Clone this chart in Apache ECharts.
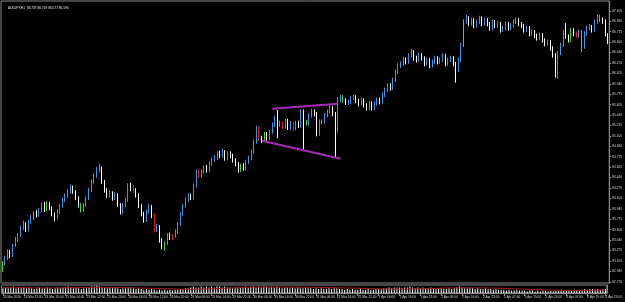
<!DOCTYPE html>
<html><head><meta charset="utf-8">
<script src="https://cdn.jsdelivr.net/npm/echarts@6/dist/echarts.min.js"></script>
<style>html,body{margin:0;padding:0;background:#000}#c{width:625px;height:302px}</style>
</head><body><div id="c"></div>
<script>
const titleText = 'AUDJPY,H1  86.737 86.749 86.577 86.596';
const opens = [82.96,83.07,83.15,83.25,83.19,83.35,83.44,83.51,83.63,83.68,83.60,83.73,83.79,83.86,83.83,83.92,
83.99,83.92,84.02,83.95,83.86,83.79,83.89,83.99,84.08,84.15,84.21,84.27,84.21,84.11,84.00,83.92,
83.99,84.11,84.24,84.37,84.47,84.56,84.58,84.37,84.24,84.15,84.19,84.11,84.16,84.00,83.89,83.99,
84.08,84.31,84.26,84.23,84.16,83.99,83.86,83.76,83.89,83.97,83.83,83.60,83.65,83.44,83.33,83.39,
83.51,83.47,83.51,83.57,83.70,83.86,83.99,84.08,84.15,84.11,84.31,84.53,84.47,84.53,84.59,84.56,
84.66,84.72,84.75,84.82,84.79,84.85,84.75,84.82,84.79,84.72,84.66,84.56,84.63,84.59,84.69,84.75,
84.85,85.01,85.23,85.07,85.04,85.14,85.07,85.17,85.28,85.36,85.28,85.31,85.25,85.35,85.23,85.30,
85.23,85.31,85.27,85.49,85.33,85.30,85.43,85.49,85.46,85.14,85.33,85.33,85.43,85.49,85.55,85.46,
85.20,85.68,85.73,85.68,85.63,85.65,85.71,85.73,85.67,85.62,85.68,85.60,85.55,85.63,85.55,85.62,
85.68,85.65,85.76,85.84,85.91,85.87,86.00,86.13,86.23,86.26,86.32,86.29,86.39,86.45,86.35,86.32,
86.40,86.35,86.26,86.32,86.23,86.29,86.35,86.29,86.32,86.39,86.26,86.32,86.35,86.26,86.16,86.32,
86.56,86.93,86.99,86.90,86.96,86.87,86.93,86.99,86.90,86.96,86.90,86.83,86.93,86.87,86.90,86.80,
86.83,86.90,86.83,86.87,86.93,86.96,86.90,86.87,86.80,86.83,86.74,86.77,86.71,86.67,86.72,86.64,
86.58,86.61,86.51,86.40,86.10,86.43,86.56,86.75,86.69,86.64,86.80,86.74,86.71,86.77,86.53,86.74,
86.83,86.85,86.80,86.93,87.01,86.96,86.93,86.737];
const closes = [83.07,83.15,83.25,83.19,83.35,83.44,83.51,83.63,83.68,83.60,83.73,83.79,83.86,83.83,83.92,83.99,
83.92,84.02,83.95,83.86,83.79,83.89,83.99,84.08,84.15,84.21,84.27,84.21,84.11,84.00,83.92,83.99,
84.11,84.24,84.37,84.47,84.56,84.58,84.37,84.24,84.15,84.19,84.11,84.16,84.00,83.89,83.99,84.08,
84.31,84.26,84.23,84.16,83.99,83.86,83.76,83.89,83.97,83.83,83.60,83.65,83.44,83.35,83.39,83.51,
83.47,83.51,83.57,83.70,83.86,83.99,84.08,84.15,84.11,84.31,84.53,84.47,84.53,84.59,84.56,84.66,
84.72,84.75,84.82,84.79,84.85,84.75,84.82,84.79,84.72,84.66,84.56,84.63,84.59,84.69,84.75,84.85,
85.01,85.23,85.07,85.04,85.14,85.07,85.17,85.28,85.36,85.28,85.31,85.25,85.35,85.23,85.30,85.23,
85.31,85.27,85.49,85.33,85.30,85.43,85.49,85.46,85.14,85.33,85.33,85.43,85.49,85.55,85.46,85.20,
85.68,85.73,85.68,85.63,85.65,85.71,85.73,85.67,85.62,85.68,85.60,85.55,85.63,85.55,85.62,85.68,
85.65,85.76,85.84,85.91,85.87,86.00,86.13,86.23,86.26,86.32,86.29,86.39,86.45,86.35,86.32,86.40,
86.35,86.26,86.32,86.23,86.29,86.35,86.29,86.32,86.39,86.26,86.32,86.35,86.26,86.16,86.32,86.56,
86.93,86.99,86.90,86.96,86.87,86.93,86.99,86.90,86.96,86.90,86.83,86.93,86.87,86.90,86.80,86.83,
86.90,86.83,86.87,86.93,86.96,86.90,86.87,86.80,86.83,86.74,86.77,86.71,86.67,86.72,86.64,86.58,
86.61,86.51,86.40,86.13,86.43,86.56,86.75,86.69,86.64,86.80,86.74,86.71,86.77,86.53,86.74,86.83,
86.85,86.80,86.93,87.01,86.96,86.93,86.74,86.596];
const highs = [83.10,83.19,83.29,83.28,83.38,83.49,83.55,83.67,83.75,83.72,83.76,83.84,83.90,83.92,83.95,84.04,
84.05,84.06,84.05,83.98,83.88,83.93,84.02,84.12,84.19,84.26,84.33,84.31,84.24,84.14,84.03,84.03,
84.14,84.28,84.41,84.51,84.61,84.66,84.62,84.40,84.27,84.24,84.22,84.21,84.19,84.03,84.03,84.12,
84.35,84.36,84.32,84.27,84.19,84.02,83.89,83.93,84.02,84.00,83.86,83.70,83.68,83.47,83.42,83.55,
83.56,83.54,83.61,83.73,83.89,84.02,84.12,84.19,84.18,84.34,84.57,84.57,84.57,84.63,84.64,84.70,
84.76,84.80,84.86,84.87,84.90,84.88,84.86,84.86,84.82,84.75,84.69,84.66,84.67,84.72,84.79,84.89,
85.05,85.27,85.26,85.11,85.17,85.17,85.20,85.32,85.43,85.52,85.35,85.34,85.38,85.38,85.34,85.33,
85.35,85.35,85.53,85.53,85.36,85.47,85.54,85.53,85.49,85.37,85.37,85.47,85.53,85.60,85.58,85.49,
85.73,85.76,85.76,85.71,85.69,85.75,85.77,85.76,85.70,85.72,85.71,85.63,85.67,85.66,85.66,85.72,
85.72,85.80,85.88,85.95,85.95,86.04,86.17,86.27,86.30,86.37,86.36,86.43,86.50,86.48,86.39,86.44,
86.43,86.38,86.36,86.35,86.33,86.39,86.38,86.36,86.43,86.42,86.36,86.39,86.38,86.29,86.36,86.60,
86.97,87.04,87.02,87.00,86.99,86.97,87.03,87.02,87.00,86.99,86.93,86.97,86.96,86.94,86.93,86.87,
86.94,86.93,86.91,86.97,87.00,86.99,86.93,86.90,86.87,86.86,86.81,86.80,86.74,86.76,86.75,86.67,
86.65,86.64,86.54,86.43,86.47,86.60,86.80,86.91,86.73,86.83,86.83,86.78,86.81,86.80,86.78,86.87,
86.90,86.88,86.97,87.05,87.04,87.00,86.97,86.749];
const lows = [82.93,83.04,83.12,83.15,83.17,83.33,83.41,83.49,83.60,83.57,83.58,83.70,83.76,83.80,83.81,83.89,
83.89,83.90,83.92,83.82,83.74,83.77,83.86,83.96,84.05,84.12,84.18,84.18,84.08,83.96,83.88,83.89,
83.97,84.08,84.21,84.34,84.44,84.52,84.34,84.20,84.11,84.12,84.07,84.08,83.97,83.85,83.86,83.96,
84.05,84.22,84.19,84.12,83.95,83.82,83.72,83.73,83.86,83.79,83.56,83.57,83.40,83.30,83.27,83.36,
83.44,83.44,83.48,83.54,83.67,83.83,83.96,84.05,84.08,84.09,84.28,84.43,84.44,84.50,84.52,84.53,
84.63,84.69,84.72,84.75,84.76,84.71,84.72,84.75,84.68,84.62,84.52,84.53,84.55,84.56,84.66,84.72,
84.82,84.98,85.03,84.99,85.01,85.03,85.04,85.14,85.25,85.07,85.25,85.21,85.22,85.20,85.20,85.19,
85.20,85.23,85.24,84.89,85.27,85.27,85.40,85.42,85.10,85.11,85.29,85.30,85.40,85.46,85.42,84.77,
85.16,85.65,85.64,85.60,85.60,85.62,85.68,85.63,85.58,85.59,85.56,85.51,85.52,85.51,85.52,85.59,
85.61,85.62,85.73,85.81,85.83,85.84,85.97,86.10,86.19,86.23,86.25,86.26,86.36,86.31,86.28,86.29,
86.31,86.22,86.23,86.19,86.20,86.26,86.25,86.26,86.29,86.22,86.23,86.29,86.22,85.96,86.13,86.29,
86.53,86.90,86.86,86.87,86.83,86.84,86.90,86.86,86.87,86.86,86.79,86.80,86.83,86.84,86.76,86.77,
86.80,86.79,86.80,86.84,86.90,86.86,86.83,86.76,86.77,86.70,86.71,86.67,86.63,86.64,86.60,86.54,
86.55,86.47,86.36,86.04,86.02,86.40,86.53,86.66,86.60,86.61,86.70,86.67,86.68,86.45,86.50,86.71,
86.80,86.76,86.77,86.90,86.93,86.90,86.70,86.577];
const greenBars = [0,12,17,30,62,91,100,116,122,130,176,196,217,221,228];
const redBars = [50,58,65,75,98,107,111,219];
const volumes = [6,7,6,7,8,6,7,6, 7,6,7,6,5,6,7,6, 6,7,6,5,6,7,6,7, 7,8,7,6,7,6,5,6,
6,7,8,8,9,8,7,7, 6,7,6,7,6,5,6,6, 7,6,6,5,6,5,4,5, 4,5,4,3,4,3,4,3,
4,3,4,4,5,5,6,6, 7,8,7,7,8,7,8,7, 8,7,8,8,7,8,7,7, 6,7,6,7,7,8,7,8,
8,7,8,7,8,8,7,8, 7,8,7,6,7,7,6,7, 6,7,6,6,7,6,6,5, 6,5,6,5,5,6,5,6,
6,5,5,4,5,4,5,4, 4,5,4,4,5,4,4,5, 5,5,6,6,7,6,7,7, 7,6,7,7,8,7,6,7,
6,7,6,6,7,6,5,6, 6,5,5,6,5,6,7,8, 7,6,6,7,6,5,6,5, 5,6,5,5,4,5,4,4,
4,3,4,3,3,4,3,3, 3,2,3,3,2,3,2,3, 3,2,3,2,3,3,4,3, 3,4,3,4,4,3,4,5,
4,5,5,4,5,4,5,5];
const volumeMA = [6.8,6.6,6.4,6.5,6.9,7.0,6.6,6.0,5.2,4.6,5.2,6.4,7.2,7.4,7.3,7.0,6.5,6.0,5.2,4.8,5.2,6.0,6.6,6.4,5.8,4.8,3.8,3.2,3.4,3.8];
const timeLabelBars = [0,8,16,24,32,40,48,56,64,72,80,88,96,104,112,120,128,136,144,152,160,168,176,184,192,200,208,216,224,231];
const timeLabels = ['24 Mar 2010','24 Mar 12:00','24 Mar 20:00','25 Mar 04:00','25 Mar 12:00','25 Mar 20:00','26 Mar 04:00','26 Mar 12:00','26 Mar 20:00',
'29 Mar 06:00','29 Mar 14:00','29 Mar 22:00','30 Mar 06:00','30 Mar 14:00','30 Mar 22:00','31 Mar 06:00','31 Mar 14:00','31 Mar 22:00',
'1 Apr 06:00','1 Apr 14:00','1 Apr 22:00','2 Apr 06:00','2 Apr 14:00','2 Apr 22:00','5 Apr 07:00','5 Apr 15:00','5 Apr 23:00','6 Apr 07:00','6 Apr 15:00','6 Apr 23:00'];
const priceTicks = [87.105,86.940,86.775,86.605,86.440,86.270,86.105,85.940,85.775,85.605,85.440,85.275,85.105,84.940,84.775,84.605,84.440,84.275,84.105,83.940,83.775,83.605,83.440,83.275,83.105,82.940,82.770];
const upperTrend = [[103,85.54],[128,85.62]];
const lowerTrend = [[99,85.03],[129,84.74]];

const BLUE = '#3a97ea', GREEN = '#3ede2a', RED = '#e41a1a', WHITE = '#ffffff';
const cats = closes.map((_, i) => String(i));
const candleData = closes.map((c, i) => {
  const item = { value: [opens[i], c, lows[i], highs[i]] };
  if (greenBars.includes(i)) item.itemStyle = { color: GREEN, color0: GREEN, borderColor: GREEN, borderColor0: GREEN };
  if (redBars.includes(i)) item.itemStyle = { color: RED, color0: RED, borderColor: RED, borderColor0: RED };
  return item;
});
const labelAt = i => timeLabelBars.indexOf(Number(i));
const chart = echarts.init(document.getElementById('c'), null, { renderer: 'canvas' });
const tiny = { fontFamily: 'Liberation Sans', fontSize: 3.2 };
chart.setOption({
  backgroundColor: '#000',
  animation: false,
  title: { text: titleText, left: 3, top: 2, textStyle: Object.assign({ color: '#e8e8e8', fontWeight: 'normal' }, tiny) },
  grid: [
    { left: 1, right: 13, top: 1, height: 282, show: true, borderColor: '#8a8a8a', borderWidth: 1, backgroundColor: '#000' },
    { left: 1, right: 13, top: 285, height: 8, show: true, borderColor: '#8a8a8a', borderWidth: 1, backgroundColor: '#000' }
  ],
  xAxis: [
    { type: 'category', gridIndex: 0, data: cats, boundaryGap: true, axisLine: { show: false }, axisTick: { show: false }, axisLabel: { show: false }, splitLine: { show: false } },
    { type: 'category', gridIndex: 1, data: cats, boundaryGap: true,
      axisLine: { show: true, lineStyle: { color: '#8a8a8a' } },
      axisTick: { show: true, alignWithLabel: true, length: 3, interval: (i) => labelAt(i) >= 0, lineStyle: { color: '#8a8a8a' } },
      axisLabel: Object.assign({ show: true, interval: (i) => labelAt(i) >= 0, formatter: (v) => timeLabels[labelAt(v)] || '', color: '#d8d8d8', align: 'left', margin: 3, hideOverlap: false, showMinLabel: true, showMaxLabel: true }, tiny),
      splitLine: { show: false } }
  ],
  yAxis: [
    { type: 'value', gridIndex: 0, position: 'right', min: 82.753, max: 87.265, scale: true,
      axisLine: { show: true, lineStyle: { color: '#8a8a8a' } },
      axisTick: { show: true, length: 2, customValues: priceTicks, lineStyle: { color: '#8a8a8a' } },
      axisLabel: Object.assign({ show: true, customValues: priceTicks, formatter: (v) => v.toFixed(3), color: '#d8d8d8', margin: 3 }, tiny),
      splitLine: { show: false } },
    { type: 'value', gridIndex: 1, position: 'right', min: 0, max: 10,
      axisLine: { show: true, lineStyle: { color: '#8a8a8a' } }, axisTick: { show: false }, axisLabel: { show: false }, splitLine: { show: false } }
  ],
  series: [
    { type: 'candlestick', xAxisIndex: 0, yAxisIndex: 0, data: candleData, barWidth: 1.2,
      itemStyle: { color: BLUE, color0: WHITE, borderColor: BLUE, borderColor0: WHITE, borderWidth: 1 },
      markLine: { silent: true, symbol: 'none', data: [{ yAxis: closes[closes.length - 1] }], lineStyle: { opacity: 0 },
        label: Object.assign({ show: true, position: 'end', distance: 1, formatter: () => closes[closes.length - 1].toFixed(3), backgroundColor: '#ffffff', color: '#000', padding: [1, 1] }, tiny) } },
    { type: 'line', xAxisIndex: 0, yAxisIndex: 0, data: upperTrend, symbol: 'none', lineStyle: { color: '#a52bb5', width: 2 }, z: 5 },
    { type: 'line', xAxisIndex: 0, yAxisIndex: 0, data: lowerTrend, symbol: 'none', lineStyle: { color: '#a52bb5', width: 2 }, z: 5 },
    { type: 'bar', xAxisIndex: 1, yAxisIndex: 1, data: volumes, barWidth: 1, itemStyle: { color: '#ffffff' } },
    { type: 'line', xAxisIndex: 1, yAxisIndex: 1, data: timeLabelBars.map((b, k) => [b, volumeMA[k]]), symbol: 'none', lineStyle: { color: '#9b1c1c', width: 1 } }
  ]
});
</script></body></html>
